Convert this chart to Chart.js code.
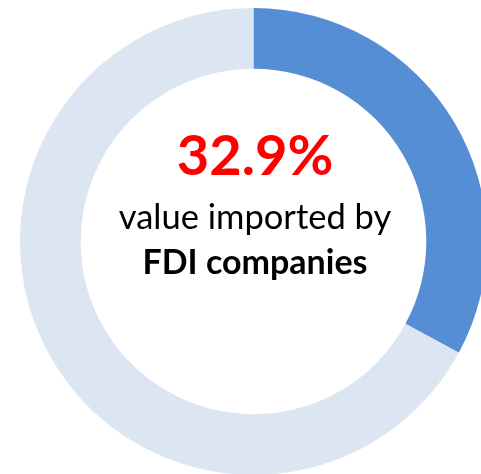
<!DOCTYPE html>
<html>
<head>
<meta charset="utf-8">
<script src="https://cdn.jsdelivr.net/npm/chart.js@4.4.0/dist/chart.umd.min.js"></script>
<style>
  html, body {
    margin: 0;
    padding: 0;
    width: 481px;
    height: 474px;
    overflow: hidden;
    background: #fff;
  }
  #wrap {
    position: absolute;
    left: 20px;
    top: 8px;
    width: 467px;
    height: 467px;
  }
  .label {
    position: absolute;
    left: 55px;
    width: 400px;
    text-align: center;
    font-family: Lato, "Open Sans", sans-serif;
    white-space: nowrap;
    line-height: 1;
  }
  #pct {
    top: 126px;
    font-size: 56px;
    font-weight: bold;
    color: #ff0000;
  }
  #line1 {
    top: 199px;
    font-size: 34.5px;
    color: #000;
  }
  #line2 {
    top: 244px;
    font-size: 34px;
    font-weight: bold;
    color: #000;
  }
</style>
</head>
<body>
<div id="wrap"><canvas id="donut"></canvas></div>
<div class="label" id="pct">32.9%</div>
<div class="label" id="line1">value imported by</div>
<div class="label" id="line2">FDI companies</div>
<script>
const categories = ["FDI companies", "Other"];
const shares = [32.9, 67.1];
const sliceColors = ["#558ED5", "#DCE6F2"];

const ctx = document.getElementById("donut").getContext("2d");

new Chart(ctx, {
  type: "doughnut",
  data: {
    labels: categories,
    datasets: [
      {
        data: shares,
        backgroundColor: sliceColors,
        borderWidth: 0,
        hoverOffset: 0,
      },
    ],
  },
  options: {
    responsive: true,
    maintainAspectRatio: false,
    animation: false,
    cutout: "74%",
    events: [],
    plugins: {
      legend: { display: false },
      tooltip: { enabled: false },
    },
  },
});
</script>
</body>
</html>
